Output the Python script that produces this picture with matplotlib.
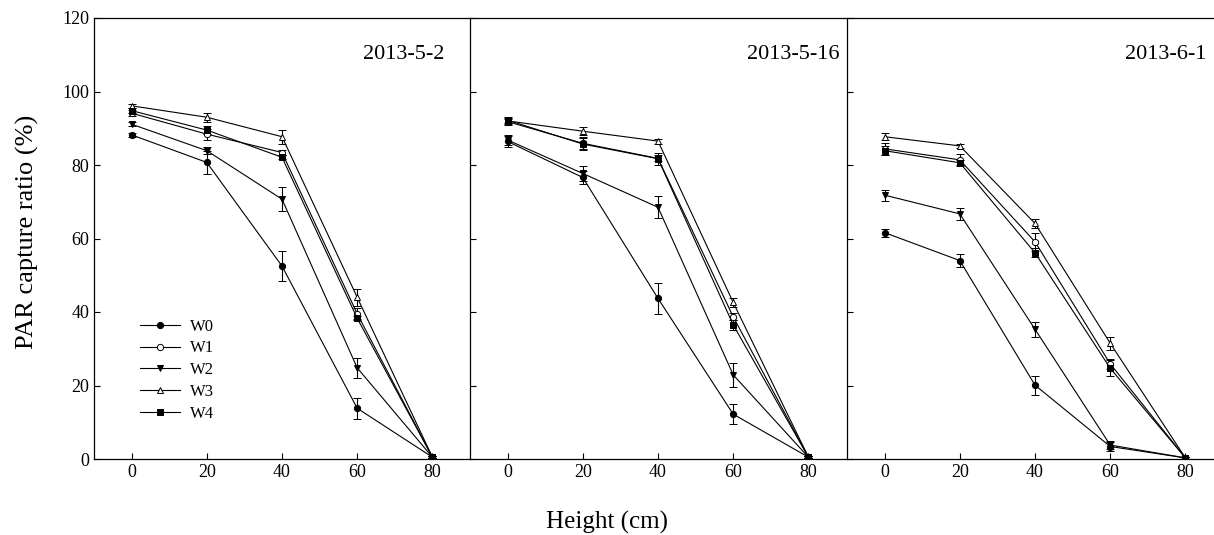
import numpy as np
import matplotlib
matplotlib.use("Agg")
import matplotlib.pyplot as plt
from matplotlib.lines import Line2D

plt.rcParams['font.family'] = ['Liberation Serif', 'DejaVu Serif']

heights = [0, 20, 40, 60, 80]
treatments = ["W0", "W1", "W2", "W3", "W4"]
dates = ["2013-5-2", "2013-5-16", "2013-6-1"]

# PAR capture ratio (%), one list per treatment, for each date
d1_mean = {
    "W0": [88.2, 80.7, 52.5, 13.8, 0.5],
    "W1": [94.1, 88.4, 83.4, 39.5, 0.5],
    "W2": [91.1, 83.9, 70.7, 24.8, 0.5],
    "W3": [96.1, 93.0, 87.7, 44.0, 0.5],
    "W4": [94.8, 89.5, 82.1, 38.3, 0.5],
}
d1_err = {
    "W0": [0.5, 3.1, 4.0, 2.8, 0.2],
    "W1": [0.8, 1.5, 0.8, 1.5, 0.2],
    "W2": [0.6, 0.9, 3.3, 2.8, 0.2],
    "W3": [0.5, 1.2, 1.9, 2.3, 0.2],
    "W4": [0.6, 1.2, 0.6, 0.6, 0.2],
}
d2_mean = {
    "W0": [86.4, 76.6, 43.7, 12.2, 0.5],
    "W1": [91.8, 85.9, 81.8, 38.7, 0.5],
    "W2": [86.8, 77.7, 68.5, 22.9, 0.5],
    "W3": [92.0, 89.2, 86.5, 42.6, 0.5],
    "W4": [92.2, 85.7, 81.7, 36.5, 0.5],
}
d2_err = {
    "W0": [1.5, 1.9, 4.3, 2.7, 0.2],
    "W1": [0.8, 1.6, 0.8, 1.0, 0.2],
    "W2": [1.3, 2.0, 3.0, 3.2, 0.2],
    "W3": [0.8, 1.1, 0.7, 1.3, 0.2],
    "W4": [0.8, 1.6, 1.6, 1.3, 0.2],
}
d3_mean = {
    "W0": [61.6, 54.0, 20.1, 3.4, 0.3],
    "W1": [84.4, 81.4, 59.1, 25.9, 0.3],
    "W2": [71.8, 66.7, 35.3, 3.8, 0.3],
    "W3": [87.7, 85.2, 64.1, 31.5, 0.3],
    "W4": [83.9, 80.6, 56.1, 24.7, 0.3],
}
d3_err = {
    "W0": [1.1, 1.8, 2.6, 1.2, 0.2],
    "W1": [1.6, 1.5, 2.4, 1.4, 0.2],
    "W2": [1.5, 1.7, 2.0, 1.2, 0.2],
    "W3": [1.0, 0.5, 1.3, 1.8, 0.2],
    "W4": [1.2, 0.8, 1.2, 2.2, 0.2],
}

means = [d1_mean, d2_mean, d3_mean]
errs = [d1_err, d2_err, d3_err]

styles = {
    "W0": dict(marker="o", mfc="black"),
    "W1": dict(marker="o", mfc="white"),
    "W2": dict(marker="v", mfc="black"),
    "W3": dict(marker="^", mfc="white"),
    "W4": dict(marker="s", mfc="black"),
}

W, H = 1214, 535
fig = plt.figure(figsize=(W / 100, H / 100), dpi=100)

lefts = [94, 470, 847]
pw = 376
top, bottom = 18, 459
title_x = [61.6, 63.7, 64.0]

for i in range(3):
    ax = fig.add_axes([lefts[i] / W, (H - bottom) / H, pw / W, (bottom - top) / H])
    for t in treatments:
        st = styles[t]
        ax.errorbar(heights, means[i][t], yerr=errs[i][t], color="black",
                    lw=0.8, marker=st["marker"], mfc=st["mfc"], mec="black",
                    mew=0.7, ms=4.5, capsize=3, elinewidth=0.8, capthick=0.8)
    ax.set_xlim(-10, 90)
    ax.set_ylim(0, 120)
    ax.set_xticks(heights)
    ax.set_yticks(range(0, 121, 20))
    ax.tick_params(direction="in", length=4, width=0.8, labelsize=13)
    if i > 0:
        ax.set_yticklabels([])
    for sp in ax.spines.values():
        sp.set_linewidth(0.9)
    if i < 2:
        ax.spines["right"].set_visible(False)
    ax.text(title_x[i], 110, dates[i], fontsize=16, va="center", ha="left")
    if i == 0:
        handles = [Line2D([], [], color="black", lw=0.8, marker=styles[t]["marker"],
                          mfc=styles[t]["mfc"], mec="black", mew=0.7, ms=4.5)
                   for t in treatments]
        ax.legend(handles, treatments, loc="upper left", bbox_to_anchor=(0.09, 0.345),
                  frameon=False, fontsize=12, handlelength=2.4, labelspacing=0.35,
                  handletextpad=0.6, borderpad=0.2)

fig.text(0.5, (H - 522) / H, "Height (cm)", ha="center", va="center", fontsize=18)
fig.text(27 / W, (H - 232) / H, "PAR capture ratio (%)", ha="center", va="center",
         rotation=90, fontsize=19)

fig.savefig("out.png", dpi=100)
